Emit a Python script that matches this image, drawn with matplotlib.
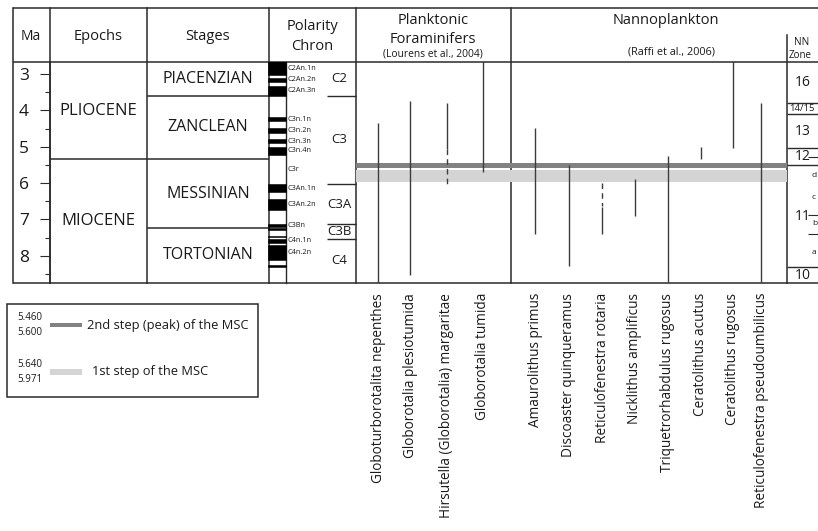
import matplotlib
matplotlib.use("Agg")
import matplotlib.pyplot as plt
from matplotlib.patches import Rectangle

plt.rcParams['font.family'] = ['Open Sans', 'DejaVu Sans']

# ---------------- data ----------------
age_ticks = [3, 4, 5, 6, 7, 8]
age_minor = [3.5, 4.5, 5.5, 6.5, 7.5, 8.5]
age_top, age_bottom = 2.678, 8.743

epochs = ["PLIOCENE", "MIOCENE"]
epoch_top = [2.678, 5.333]
epoch_base = [5.333, 8.743]

stages = ["PIACENZIAN", "ZANCLEAN", "MESSINIAN", "TORTONIAN"]
stage_top = [2.678, 3.600, 5.333, 7.246]
stage_base = [3.600, 5.333, 7.246, 8.743]

# normal-polarity subchrons (Lourens et al., 2004)
normal_names = ["C2An.1n", "C2An.2n", "C2An.3n", "C3n.1n", "C3n.2n", "C3n.3n",
                "C3n.4n", "C3An.1n", "C3An.2n", "C3Bn", "C3Br.1n", "C3Br.2n",
                "C4n.1n", "C4n.2n", "C4r.1n"]
normal_top = [2.581, 3.116, 3.330, 4.187, 4.493, 4.799, 4.997, 6.033, 6.436,
              7.140, 7.251, 7.454, 7.528, 7.695, 8.254]
normal_base = [3.032, 3.207, 3.596, 4.300, 4.631, 4.896, 5.235, 6.252, 6.733,
               7.212, 7.285, 7.489, 7.642, 8.108, 8.300]
labelled_subchrons = ["C2An.1n", "C2An.2n", "C2An.3n", "C3n.1n", "C3n.2n",
                      "C3n.3n", "C3n.4n", "C3An.1n", "C3An.2n", "C3Bn",
                      "C4n.1n", "C4n.2n"]
reversed_names = ["C3r"]
reversed_top = [5.235]
reversed_base = [6.033]

chrons = ["C2", "C3", "C3A", "C3B", "C4"]
chron_top = [2.678, 3.596, 6.033, 7.140, 7.528]
chron_base = [3.596, 6.033, 7.140, 7.528, 8.743]

plank_names = ["Globoturborotalita nepenthes", "Globorotalia plesiotumida",
               "Hirsutella (Globorotalia) margaritae", "Globorotalia tumida"]
plank_top = [4.36, 3.75, 3.79, 2.60]
plank_base = [8.80, 8.54, 5.07, 5.69]
plank_unc_top = [None, None, 5.07, None]
plank_unc_base = [None, None, 6.07, None]

nanno_names = ["Amaurolithus primus", "Discoaster quinqueramus",
               "Reticulofenestra rotaria", "Nicklithus amplificus",
               "Triquetrorhabdulus rugosus", "Ceratolithus acutus",
               "Ceratolithus rugosus", "Reticulofenestra pseudoumbilicus"]
nanno_top = [4.48, 5.51, 6.66, 5.90, 5.26, 5.01, 2.60, 3.81]
nanno_base = [7.41, 8.29, 7.41, 6.91, 8.80, 5.33, 5.05, 8.80]
nanno_unc_top = [None, None, 5.99, None, None, None, None, None]
nanno_unc_base = [None, None, 6.62, None, None, None, None, None]

msc_labels = ["2nd step (peak) of the MSC", "1st step of the MSC"]
msc_top = [5.460, 5.640]
msc_base = [5.600, 5.971]

nn_zones = ["16", "14/15", "13", "12", "11", "10"]
nn_top = [2.678, 3.79, 4.10, 5.05, 5.51, 8.32]
nn_base = [3.79, 4.10, 5.05, 5.51, 8.32, 8.743]
nn_sub_lines = [5.28, 6.88, 7.39]
nn_sub_names = ["d", "c", "b", "a"]
nn_sub_ages = [5.80, 6.40, 7.12, 7.90]

# ---------------- layout (pixel units) ----------------
W, H = 818, 531
y_head_top, y_head_bot, y_data_bot = 8.3, 62.3, 282.7
x_left, x_ma, x_ep, x_st, x_pol, x_pf, x_nn = 12.7, 50, 147, 268.7, 355.5, 510.7, 786.5
pol_bar_l, pol_bar_r = 268.3, 285.7
plank_x = [378, 410, 446.5, 482.5]
nanno_x = [535.3, 568.7, 602, 635, 667.7, 701, 733, 761.3]

FRAME = '#2a2a2a'
LINE = '#3c3c3c'
TXT = '#1a1a1a'
DARK = '#828282'
LIGHT = '#d4d4d4'

fig = plt.figure(figsize=(W / 100, H / 100), dpi=100)
fx = fig.add_axes([0, 0, 1, 1])
fx.set_xlim(0, W)
fx.set_ylim(H, 0)
fx.axis('off')

ax = fig.add_axes([0, (H - y_data_bot) / H, 1, (y_data_bot - y_head_bot) / H])
ax.set_xlim(0, W)
ax.set_ylim(age_bottom, age_top)
ax.patch.set_alpha(0)
for s in ['top', 'right', 'bottom']:
    ax.spines[s].set_visible(False)
ax.spines['left'].set_position(('data', x_ma))
ax.spines['left'].set_color(FRAME)
ax.spines['left'].set_linewidth(1.1)
ax.set_xticks([])
ax.set_yticks(age_ticks)
ax.set_yticks(age_minor, minor=True)
ax.set_yticklabels([str(t) for t in age_ticks])
ax.tick_params(axis='y', which='major', length=7.2, width=0.8, color=FRAME,
               direction='out', pad=8, labelsize=12.5, labelcolor=TXT)
ax.tick_params(axis='y', which='minor', length=3.6, width=0.8, color=FRAME, direction='out')

# ---- frame ----
for yy in [y_head_top, y_head_bot, y_data_bot]:
    fx.plot([x_left, W], [yy, yy], color=FRAME, lw=1.1, solid_capstyle='butt')
for xx in [x_left, x_ma, x_ep, x_st, x_pol, x_pf]:
    fx.plot([xx, xx], [y_head_top, y_data_bot], color=FRAME, lw=1.1)
fx.plot([x_nn, x_nn], [35, y_data_bot], color=FRAME, lw=1.1)
fx.plot([pol_bar_r, pol_bar_r], [y_head_bot, y_data_bot], color=FRAME, lw=1.0)

# ---- headers ----
fx.text(31, 36, "Ma", ha='center', va='center', fontsize=10, color=TXT)
fx.text((x_ma + x_ep) / 2, 36, "Epochs", ha='center', va='center', fontsize=10.5, color=TXT)
fx.text((x_ep + x_st) / 2, 36, "Stages", ha='center', va='center', fontsize=10.5, color=TXT)
fx.text((x_st + x_pol) / 2, 26, "Polarity", ha='center', va='center', fontsize=10.5, color=TXT)
fx.text((x_st + x_pol) / 2, 46.5, "Chron", ha='center', va='center', fontsize=10.5, color=TXT)
fx.text(433, 20, "Planktonic", ha='center', va='center', fontsize=10.5, color=TXT)
fx.text(433, 39.5, "Foraminifers", ha='center', va='center', fontsize=10.5, color=TXT)
fx.text(433, 54, "(Lourens et al., 2004)", ha='center', va='center', fontsize=7.4, color=TXT)
fx.text(666, 20, "Nannoplankton", ha='center', va='center', fontsize=10.5, color=TXT)
fx.text(672, 52, "(Raffi et al., 2006)", ha='center', va='center', fontsize=7.8, color=TXT)
fx.text(801.5, 42.5, "NN", ha='center', va='center', fontsize=7.2, color=TXT)
fx.text(788.5, 55, "Zone", ha='left', va='center', fontsize=7.0, color=TXT)

# ---- epochs & stages ----
ax.hlines(epoch_base[:-1], x_ma, x_ep, color=FRAME, lw=1.1)
for n, t, b in zip(epochs, epoch_top, epoch_base):
    ax.text((x_ma + x_ep) / 2, (t + b) / 2, n, ha='center', va='center', fontsize=12, color=TXT)
ax.hlines(stage_base[:-1], x_ep, x_st, color=FRAME, lw=1.1)
for n, t, b in zip(stages, stage_top, stage_base):
    ax.text((x_ep + x_st) / 2, (t + b) / 2, n, ha='center', va='center', fontsize=11.5, color=TXT)

# ---- polarity ----
heights = [b - t for t, b in zip(normal_top, normal_base)]
ax.bar((pol_bar_l + pol_bar_r) / 2, heights, width=pol_bar_r - pol_bar_l,
       bottom=normal_top, color='black', edgecolor='black', lw=0.4, zorder=3)
for n, t, b in zip(normal_names, normal_top, normal_base):
    if n in labelled_subchrons:
        ax.text(288, (max(t, age_top) + b) / 2, n, ha='left', va='center', fontsize=5.3, color=TXT)
for n, t, b in zip(reversed_names, reversed_top, reversed_base):
    ax.text(288, (t + b) / 2, n, ha='left', va='center', fontsize=5.3, color=TXT)
ax.hlines(chron_base[:-1], 326.7, x_pol, color=FRAME, lw=1.0)
for n, t, b in zip(chrons, chron_top, chron_base):
    ax.text(339, (t + b) / 2, n, ha='center', va='center', fontsize=9.5, color=TXT)

# ---- MSC bands ----
for t, b, c in zip(msc_top, msc_base, [DARK, LIGHT]):
    ax.axhspan(t, b, xmin=x_pol / W, xmax=x_nn / W, color=c, lw=0, zorder=1)

# ---- ranges ----
def draw_ranges(xs, tops, bases, utops, ubases):
    ax.vlines(xs, tops, bases, color=LINE, lw=1.0, zorder=2)
    for x, ut, ub in zip(xs, utops, ubases):
        if ut is not None:
            ax.vlines(x, ut, ub, color=LINE, lw=1.0, zorder=2, linestyles=(0, (4, 3)))

draw_ranges(plank_x, plank_top, plank_base, plank_unc_top, plank_unc_base)
draw_ranges(nanno_x, nanno_top, nanno_base, nanno_unc_top, nanno_unc_base)

for x, n in zip(plank_x + nanno_x, plank_names + nanno_names):
    fx.text(x, 293, n, rotation=90, ha='center', va='top', fontsize=9.8, color=TXT)

# ---- NN zones ----
ax.hlines(nn_base[:-1], x_nn, W, color=FRAME, lw=1.0)
for n, t, b in zip(nn_zones, nn_top, nn_base):
    if '/' in n:
        ax.text(789, (t + b) / 2, n, ha='left', va='center', fontsize=6.8, color=TXT)
    else:
        ax.text(803, (t + b) / 2, n, ha='center', va='center', fontsize=10, color=TXT)
ax.hlines(nn_sub_lines, 808, W, color=FRAME, lw=0.8)
for n, a in zip(nn_sub_names, nn_sub_ages):
    ax.text(812, a, n, ha='left', va='center', fontsize=6, color=TXT)

# ---- legend ----
fx.add_patch(Rectangle((7.3, 304), 251, 92.7, fill=False, edgecolor=FRAME, lw=1.1))
leg_y = [325, 371.5]
for (lab, t, b, c, yy, th, tx) in zip(msc_labels, msc_top, msc_base, [DARK, LIGHT],
                                     leg_y, [3.6, 6.0], [86.7, 91.7]):
    fx.text(30, yy - 7, f"{t:.3f}", ha='center', va='center', fontsize=7, color=TXT)
    fx.text(30, yy + 7.5, f"{b:.3f}", ha='center', va='center', fontsize=7, color=TXT)
    fx.add_patch(Rectangle((50, yy - th / 2), 31.5, th, color=c, lw=0))
    fx.text(tx, yy, lab, ha='left', va='center', fontsize=9.3, color=TXT)

fig.savefig("out.png", dpi=100)
